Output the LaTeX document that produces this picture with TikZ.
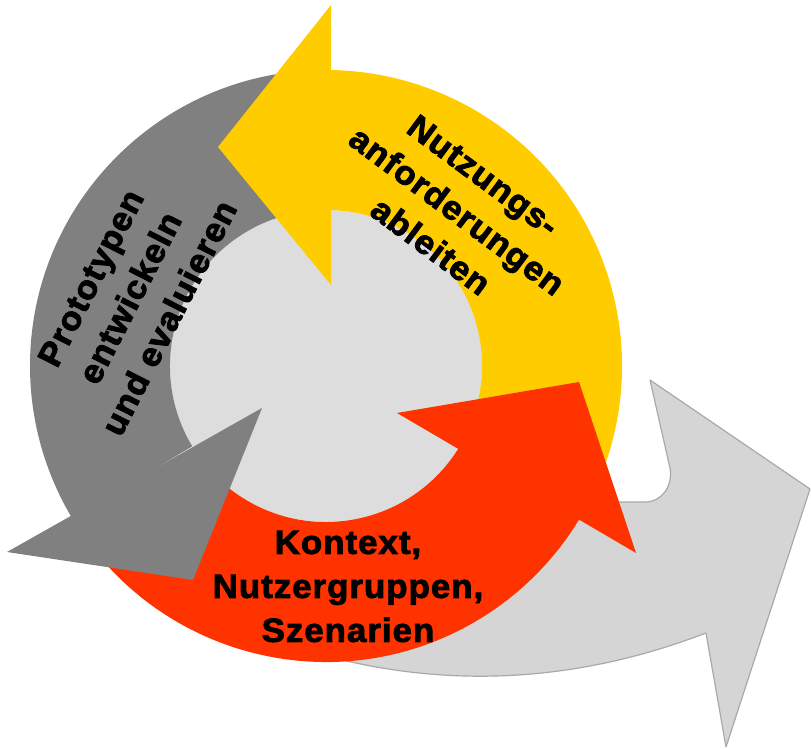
\documentclass[tikz,border=0pt]{standalone}
\usepackage{fontspec}
\usetikzlibrary{calc}
\newfontfamily\cyclefont[FakeStretch=1.04, LetterSpace=3,
  BoldFeatures={FakeBold=2.5}]{Liberation Sans}
\definecolor{ringyellow}{HTML}{FFCC00}
\definecolor{ringgray}{HTML}{808080}
\definecolor{ringred}{HTML}{FF3300}
\definecolor{hubgray}{HTML}{DDDDDD}
\definecolor{outfill}{HTML}{D5D5D5}
\definecolor{outedge}{HTML}{A9A9A9}

\begin{document}
\begin{tikzpicture}[x=1pt,y=1pt,
  lbl/.style={font=\cyclefont\bfseries\fontsize{33.5}{44}\selectfont,
              align=center, inner sep=0pt, text=black},
  outarrow/.style={fill=outfill, draw=outedge, line width=1.2pt, line join=round},
]
\useasboundingbox (0,0) rectangle (811,748);
\coordinate (C) at (326,382);

% wide arrow leaving the cycle, behind everything
\filldraw[outarrow]
  (326,300) -- (330,91) .. controls (455,59) and (581,67) .. (706,115)
  -- (726,1) -- (810,259) -- (650,368) -- (670,280)
  .. controls (673,262) and (662,246) .. (645,246) -- (600,246) -- cycle;

% hub disc
\fill[hubgray] (C) circle[radius=156];

% curved bodies of the three cycle arrows
\fill[ringyellow] ($(C)+(-30:296)$) arc[start angle=-30, end angle=89.5, radius=296]
  -- ($(C)+(89.5:156)$) arc[start angle=89.5, end angle=-30, radius=156] -- cycle;
\fill[ringgray] ($(C)+(92:296)$) arc[start angle=92, end angle=211, radius=296]
  -- ($(C)+(211:156)$) arc[start angle=211, end angle=92, radius=156] -- cycle;
\fill[ringred] ($(C)+(213:296)$) arc[start angle=213, end angle=329.5, radius=296]
  -- ($(C)+(329.5:156)$) arc[start angle=329.5, end angle=213, radius=156] -- cycle;

% arrow heads, each lying over the next body
\coordinate (yb1) at (331,743); \coordinate (yt) at (218,601); \coordinate (yb2) at (331,463);
\coordinate (gb1) at (262,340); \coordinate (gt) at (193,168); \coordinate (gb2) at (7,196);
\coordinate (rb1) at (397,335); \coordinate (rt) at (579,366); \coordinate (rb2) at (636,195);
\fill[ringyellow] (yb1) -- (yt) -- (yb2) -- cycle;
\fill[ringgray] (gb1) -- (gt) -- (gb2) -- cycle;
\fill[ringred] (rb1) -- (rt) -- (rb2) -- cycle;

% labels
\node[lbl, rotate=-36.6] (reqs) at (457,537) {Nutzungs-\\anforderungen\\ableiten};
\node[lbl, rotate=63] (proto) at (130,450) {Prototypen\\entwickeln\\und evaluieren};
\node[lbl] (ctx) at (348,161.5) {Kontext,\\Nutzergruppen,\\Szenarien};
\end{tikzpicture}
\end{document}
